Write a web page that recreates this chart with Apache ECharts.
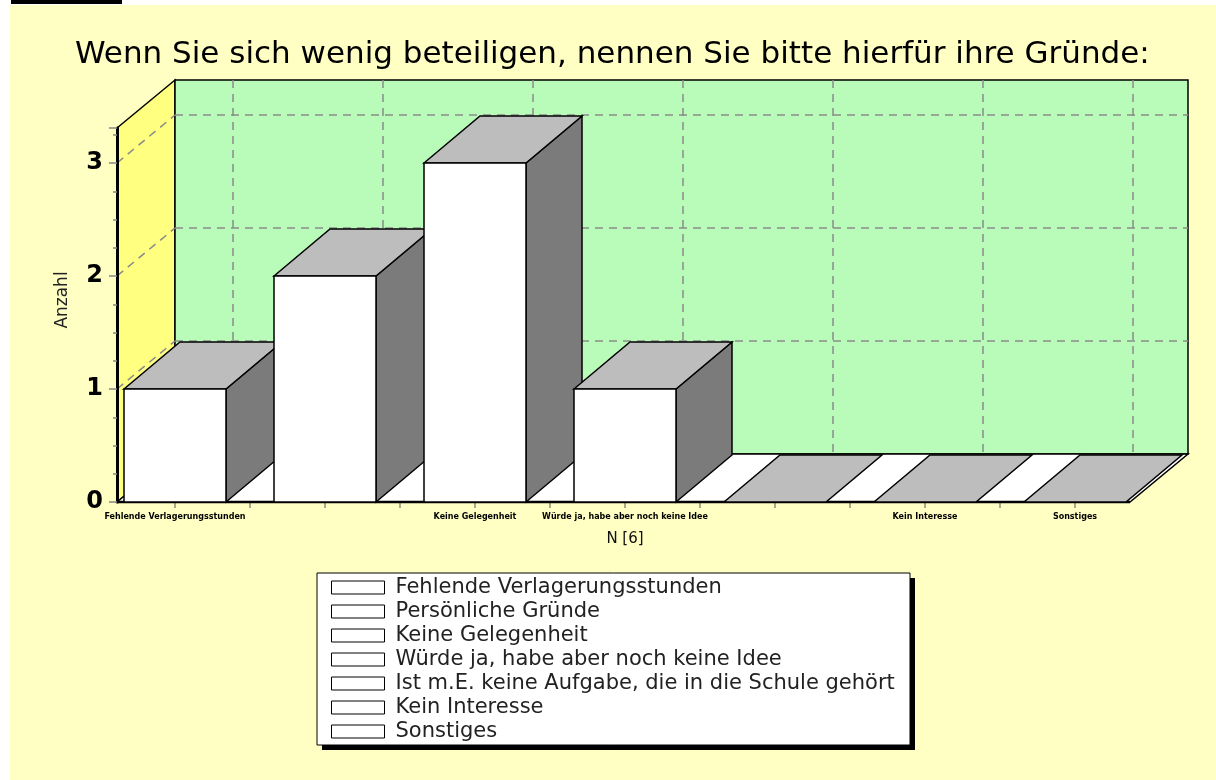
<!DOCTYPE html>
<html>
<head>
<meta charset="utf-8">
<script src="https://cdn.jsdelivr.net/npm/echarts@6/dist/echarts.min.js"></script>
<style>
  html, body { margin: 0; padding: 0; background: #fff; }
  #main { width: 1216px; height: 780px; }
</style>
</head>
<body>
<div id="main"></div>
<script>
// Daten
var categories = [
    'Fehlende Verlagerungsstunden',
    'Persönliche Gründe',
    'Keine Gelegenheit',
    'Würde ja, habe aber noch keine Idee',
    'Ist m.E. keine Aufgabe, die in die Schule gehört',
    'Kein Interesse',
    'Sonstiges'
];
var counts = [1, 2, 3, 1, 0, 0, 0];
var yTicks = [0, 1, 2, 3];
var yMax = 3.31;

var FONT = 'DejaVu Sans';
var WALL = [58, -48];   // Tiefe der Wände
var BOX = [56, -47];    // Tiefe der Säulen

var myChart = echarts.init(document.getElementById('main'));

// Rahmen: Seitenwand, Rückwand, Boden, Gitterlinien
function renderFrame(params, api) {
    var first = api.coord([0, 0]);
    var last = api.coord([categories.length - 1, 0]);
    var top = api.coord([0, yMax])[1];
    var y0 = first[1];
    var xl = first[0] - 58;
    var xr = last[0] + 55;
    var dx = WALL[0], dy = WALL[1];
    var kids = [];
    var edge = { stroke: '#000', lineWidth: 1.5 };
    var dash = { stroke: '#8a8a8a', lineWidth: 1.5, lineDash: [8, 6] };

    kids.push({ type: 'polygon', shape: { points: [[xl, top], [xl + dx, top + dy], [xl + dx, y0 + dy], [xl, y0]] },
        style: Object.assign({ fill: '#ffff80' }, edge) });
    kids.push({ type: 'polygon', shape: { points: [[xl + dx, top + dy], [xr + dx, top + dy], [xr + dx, y0 + dy], [xl + dx, y0 + dy]] },
        style: Object.assign({ fill: '#b9fcb9' }, edge) });
    kids.push({ type: 'polygon', shape: { points: [[xl, y0], [xl + dx, y0 + dy], [xr + dx, y0 + dy], [xr, y0]] },
        style: Object.assign({ fill: '#fff' }, edge) });

    yTicks.forEach(function (v) {
        if (v === 0) return;
        var y = api.coord([0, v])[1];
        kids.push({ type: 'line', shape: { x1: xl, y1: y, x2: xl + dx, y2: y + dy }, style: dash });
        kids.push({ type: 'line', shape: { x1: xl + dx, y1: y + dy, x2: xr + dx, y2: y + dy }, style: dash });
    });
    categories.forEach(function (c, i) {
        var x = api.coord([i, 0])[0];
        kids.push({ type: 'line', shape: { x1: x + dx, y1: top + dy, x2: x + dx, y2: y0 + dy }, style: dash });
        kids.push({ type: 'line', shape: { x1: x, y1: y0, x2: x, y2: y0 + 6 }, style: { stroke: '#555', lineWidth: 1 } });
        if (i < categories.length - 1) {
            var xm = (x + api.coord([i + 1, 0])[0]) / 2;
            kids.push({ type: 'line', shape: { x1: xm, y1: y0, x2: xm, y2: y0 + 6 }, style: { stroke: '#555', lineWidth: 1 } });
        }
    });
    kids.push({ type: 'line', shape: { x1: xl, y1: y0, x2: xr, y2: y0 }, style: { stroke: '#000', lineWidth: 2.5 } });
    return { type: 'group', children: kids };
}

// eine 3D-Säule
function renderBox(params, api) {
    var i = api.value(0);
    var top = api.coord([i, api.value(1)]);
    var base = api.coord([i, 0]);
    var w = api.size([1, 0])[0] * 0.68;
    var x0 = top[0] - w / 2, x1 = top[0] + w / 2;
    var yt = top[1], yb = base[1];
    var dx = BOX[0], dy = BOX[1];
    var line = { stroke: '#000', lineWidth: 1.5 };
    var kids = [];
    if (yb - yt > 0) {
        kids.push({ type: 'polygon', shape: { points: [[x1, yt], [x1 + dx, yt + dy], [x1 + dx, yb + dy], [x1, yb]] },
            style: Object.assign({ fill: '#7b7b7b' }, line) });
    }
    kids.push({ type: 'polygon', shape: { points: [[x0, yt], [x0 + dx, yt + dy], [x1 + dx, yt + dy], [x1, yt]] },
        style: Object.assign({ fill: '#bdbdbd' }, line) });
    if (yb - yt > 0) {
        kids.push({ type: 'rect', shape: { x: x0, y: yt, width: w, height: yb - yt },
            style: Object.assign({ fill: '#fff' }, line) });
    }
    return { type: 'group', children: kids };
}

var series = [{
    name: 'frame',
    type: 'custom',
    silent: true,
    renderItem: renderFrame,
    data: [[0, 0]],
    z: 1
}];
categories.forEach(function (name, i) {
    series.push({
        name: name,
        type: 'custom',
        silent: true,
        itemStyle: { color: '#fff' },
        renderItem: renderBox,
        encode: { x: 0, y: 1 },
        data: [[i, counts[i]]],
        z: 2
    });
});

option = {
    backgroundColor: '#fff',
    animation: false,
    graphic: [
        { type: 'rect', z: -10, shape: { x: 10, y: 5, width: 1206, height: 775 }, style: { fill: '#ffffc4' } },
        { type: 'rect', z: -9, shape: { x: 11, y: 0, width: 111, height: 4 }, style: { fill: '#000' } },
        // Legendenkasten mit Schatten
        { type: 'rect', z: 3, shape: { x: 322, y: 578, width: 593, height: 172 }, style: { fill: '#000' } },
        { type: 'rect', z: 3, shape: { x: 317, y: 573, width: 593, height: 172 }, style: { fill: '#fff', stroke: '#000', lineWidth: 1 } }
    ],
    title: {
        text: 'Wenn Sie sich wenig beteiligen, nennen Sie bitte hierfür ihre Gründe:',
        left: 70,
        top: 34,
        textStyle: { fontFamily: FONT, fontSize: 31, fontWeight: 'normal', color: '#000' }
    },
    grid: { left: 100, right: 66, top: 128, bottom: 278 },
    xAxis: {
        type: 'category',
        data: categories,
        name: 'N [6]',
        nameLocation: 'middle',
        nameGap: 30,
        nameTextStyle: { fontFamily: FONT, fontSize: 15, color: '#111' },
        axisLine: { show: false },
        axisTick: { show: false },
        axisLabel: {
            interval: function (i) { return i !== 1 && i !== 4; },
            margin: 11,
            fontFamily: FONT, fontSize: 8, fontWeight: 'bold', color: '#000'
        },
        splitLine: { show: false }
    },
    yAxis: {
        type: 'value',
        min: 0,
        max: yMax,
        interval: 1,
        offset: -17,
        z: 5,
        name: 'Anzahl',
        nameLocation: 'middle',
        nameGap: 46,
        nameTextStyle: { fontFamily: FONT, fontSize: 17, color: '#222', padding: [0, 0, 0, 30] },
        axisLine: { show: true, lineStyle: { color: '#000', width: 3 } },
        axisTick: { show: true, length: 8, lineStyle: { color: '#888', width: 1.5 } },
        minorTick: { show: true, splitNumber: 4, length: 4, lineStyle: { color: '#888', width: 1.5 } },
        splitLine: { show: false },
        axisLabel: {
            margin: 14,
            formatter: function (v) { return yTicks.indexOf(v) >= 0 ? String(v) : ''; },
            fontFamily: FONT, fontSize: 24, fontWeight: 'bold', color: '#000'
        }
    },
    legend: {
        data: categories,
        orient: 'vertical',
        left: 317,
        top: 573,
        padding: [4, 8, 4, 14],
        itemWidth: 53,
        itemHeight: 13,
        itemGap: 3,
        icon: 'rect',
        selectedMode: false,
        itemStyle: { color: '#fff', borderColor: '#000', borderWidth: 1 },
        textStyle: { fontFamily: FONT, fontSize: 21, lineHeight: 20, color: '#222', padding: [0, 0, 0, 6] }
    },
    series: series
};

myChart.setOption(option);
</script>
</body>
</html>
